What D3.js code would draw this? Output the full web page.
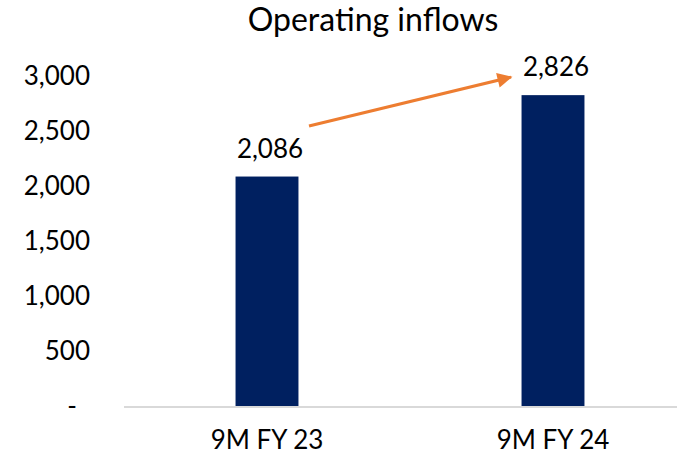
<!DOCTYPE html>
<html>
<head>
<meta charset="utf-8">
<script src="https://cdn.jsdelivr.net/npm/d3@7"></script>
<style>
  body { margin: 0; background: #fff; }
  text { font-family: Lato, "Open Sans", sans-serif; fill: #000; }
</style>
</head>
<body>
<svg id="chart" width="677" height="459"></svg>
<script>
// data
var categories = ["9M FY 23", "9M FY 24"];
var values = [2086, 2826];
var yTicks = [0, 500, 1000, 1500, 2000, 2500, 3000];
// arrow annotation: from above first bar to the second label
var arrowFrom = [categories[0], 2545];
var arrowTo = [categories[1], 2990];

var svg = d3.select("#chart");

var x = d3.scaleBand().domain(categories).range([124, 696]).padding(0);
var y = d3.scaleLinear().domain([0, 3000]).range([406, 76]);
var barW = x.bandwidth() * 0.22;
var cx = function(c) { return x(c) + x.bandwidth() / 2; };

// title
svg.append("text")
  .attr("x", 373).attr("y", 31)
  .attr("text-anchor", "middle")
  .style("font-size", "32px")
  .text("Operating inflows");

// y axis labels (no line)
var gy = svg.append("g")
  .attr("transform", "translate(90,0)")
  .call(d3.axisLeft(y).tickValues(yTicks).tickSize(0).tickPadding(0)
    .tickFormat(function(d) { return d === 0 ? "-" : d3.format(",")(d); }));
gy.select(".domain").remove();
gy.selectAll("text")
  .style("font-size", "26px")
  .style("font-family", "Lato, sans-serif")
  .attr("fill", "#000")
  .attr("dx", function(d) { return d === 0 ? -13 : 0; });

// bars
svg.selectAll(".bar")
  .data(values)
  .enter().append("rect")
  .attr("class", "bar")
  .attr("x", function(d, i) { return cx(categories[i]) - barW / 2; })
  .attr("y", function(d) { return y(d); })
  .attr("width", barW)
  .attr("height", function(d) { return y(0) - y(d); })
  .style("fill", "#002060");

// x axis line
svg.append("line")
  .attr("x1", x.range()[0]).attr("x2", 677)
  .attr("y1", y(0) + 1).attr("y2", y(0) + 1)
  .style("stroke", "#d9d9d9")
  .style("stroke-width", 2);

// x labels
svg.selectAll(".xlab")
  .data(categories)
  .enter().append("text")
  .attr("class", "xlab")
  .attr("x", function(d) { return cx(d); })
  .attr("y", 449)
  .attr("text-anchor", "middle")
  .style("font-size", "26px")
  .text(function(d) { return d; });

// value labels
svg.selectAll(".val")
  .data(values)
  .enter().append("text")
  .attr("class", "val")
  .attr("x", function(d, i) { return cx(categories[i]) + 3; })
  .attr("y", function(d) { return y(d) - 19; })
  .attr("text-anchor", "middle")
  .style("font-size", "26px")
  .text(function(d) { return d3.format(",")(d); });

// arrow
svg.append("defs").append("marker")
  .attr("id", "head")
  .attr("viewBox", "0 0 10 10")
  .attr("refX", 9).attr("refY", 5)
  .attr("markerWidth", 6).attr("markerHeight", 5)
  .attr("markerUnits", "strokeWidth")
  .attr("orient", "auto")
  .append("path")
  .attr("d", "M0,0 L10,5 L0,10 Z")
  .style("fill", "#ed7d31");

svg.append("line")
  .attr("x1", cx(arrowFrom[0]) + 42).attr("y1", y(arrowFrom[1]))
  .attr("x2", cx(arrowTo[0]) - 42).attr("y2", y(arrowTo[1]))
  .style("stroke", "#ed7d31")
  .style("stroke-width", 3)
  .attr("marker-end", "url(#head)");
</script>
</body>
</html>
